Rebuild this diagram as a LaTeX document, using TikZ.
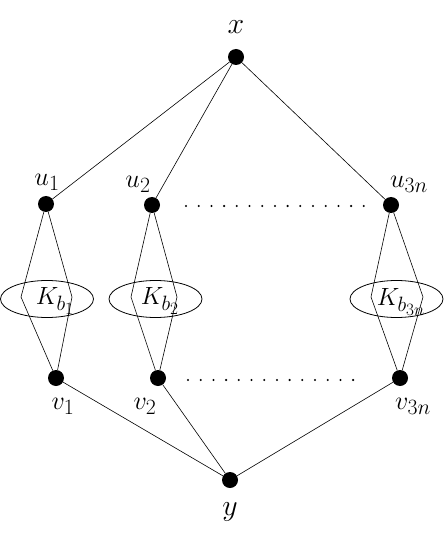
\documentclass[tikz,border=0pt]{standalone}
\usepackage{graphicx}
\usetikzlibrary{shapes.geometric}
\newcommand{\mylb}[2][1.05]{\scalebox{#1}{$#2$}}
\begin{document}
\begin{tikzpicture}[x=1pt,y=-1pt,
  vtx/.style={circle,fill=black,inner sep=0pt,minimum size=16pt},
  lbl/.style={inner sep=0pt,font=\Huge},
  edge/.style={line width=0.6pt},
  blob/.style={ellipse,draw,line width=0.8pt,minimum width=93pt,minimum height=37pt,inner sep=0pt},
  dotrow/.style={line width=2.3pt,line cap=round,dash pattern=on 0pt off 12.7pt}]
\useasboundingbox (0,0) rectangle (445,537);
\node[vtx] (x) at (236,57) {};
\node[vtx] (u1) at (46,204) {};
\node[vtx] (u2) at (152,205) {};
\node[vtx] (u3) at (391,205) {};
\node[vtx] (v1) at (56,378) {};
\node[vtx] (v2) at (158,378) {};
\node[vtx] (v3) at (400,378) {};
\node[vtx] (y) at (230,480) {};
\node[lbl] (lx) at (236,27) {\mylb[1.2]{x}};
\node[lbl] (lu1) at (47,182) {\mylb{u_1}};
\node[lbl] (lu2) at (138,184) {\mylb{u_2}};
\node[lbl] (lu3) at (409,184) {\mylb{u_{3n}}};
\node[lbl] (lv1) at (63,406) {\mylb{v_1}};
\node[lbl] (lv2) at (145,406) {\mylb{v_2}};
\node[lbl] (lv3) at (413,406) {\mylb{v_{3n}}};
\node[lbl] (ly) at (230,512) {\mylb[1.2]{y}};
\node[blob] (e1) at (47,299) {};
\node[blob] (e2) at (155.5,299) {};
\node[blob] (e3) at (396.5,299) {};
\node[lbl] (k1) at (55,301) {\mylb[1.0]{K_{b_1}}};
\node[lbl] (k2) at (160,301) {\mylb[1.0]{K_{b_2}}};
\node[lbl] (k3) at (401,302) {\mylb[1.0]{K_{b_{3n}}}};
\coordinate (a1) at (21,297); \coordinate (b1) at (72,297);
\coordinate (a2) at (131,297); \coordinate (b2) at (177,297);
\coordinate (a3) at (371,297); \coordinate (b3) at (423,297);
\draw[edge] (x) -- (u1);
\draw[edge] (x) -- (u2);
\draw[edge] (x) -- (u3);
\draw[edge] (v1) -- (y);
\draw[edge] (v2) -- (y);
\draw[edge] (v3) -- (y);
\draw[edge] (u1) -- (a1) -- (v1);
\draw[edge] (u1) -- (b1) -- (v1);
\draw[edge] (u2) -- (a2) -- (v2);
\draw[edge] (u2) -- (b2) -- (v2);
\draw[edge] (u3) -- (a3) -- (v3);
\draw[edge] (u3) -- (b3) -- (v3);
\coordinate (d1s) at (186,206); \coordinate (d1e) at (372,206);
\coordinate (d2s) at (188,380); \coordinate (d2e) at (360,380);
\draw[dotrow] (d1s) -- (d1e);
\draw[dotrow] (d2s) -- (d2e);
\end{tikzpicture}
\end{document}
